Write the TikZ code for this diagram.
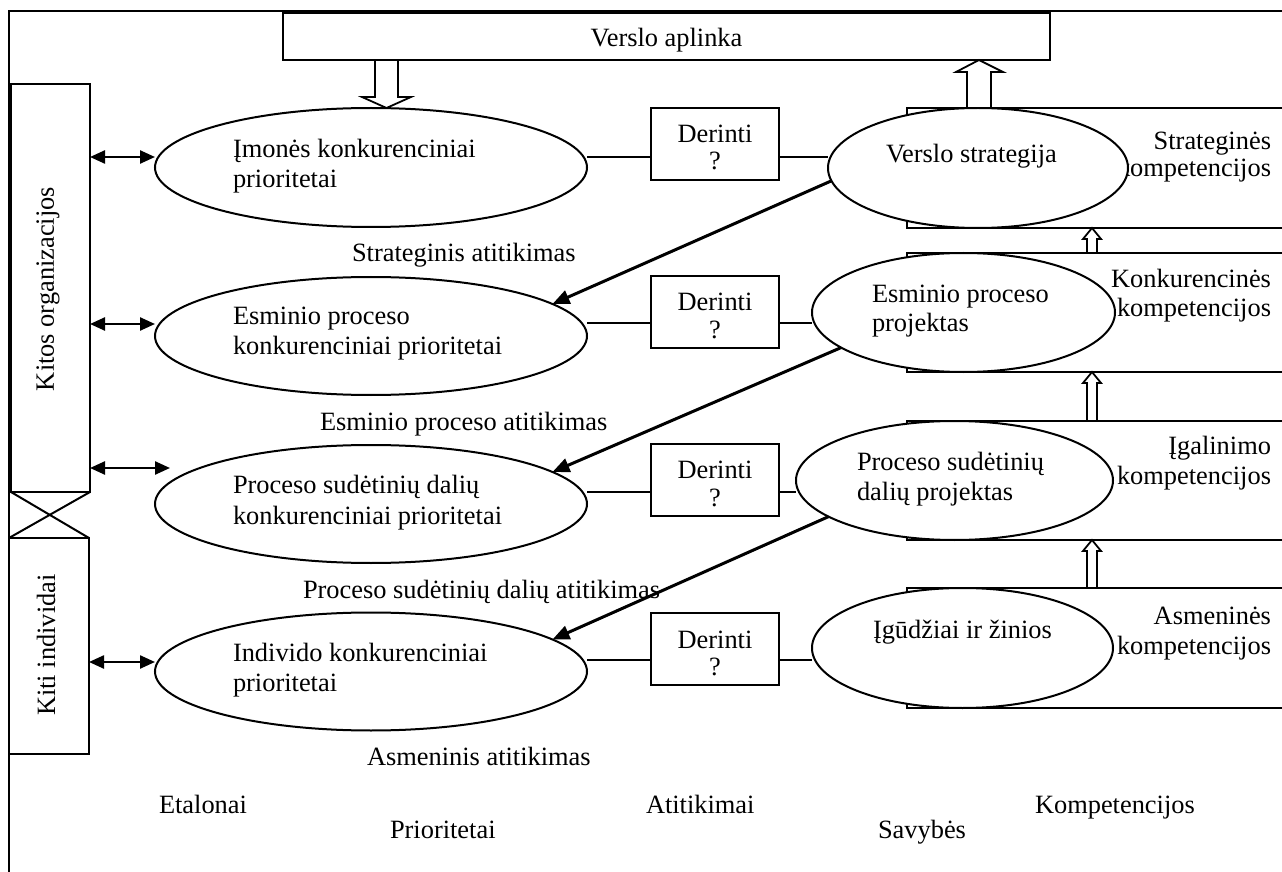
\documentclass[tikz,border=0pt]{standalone}
\usepackage{fontspec}
\setmainfont{Liberation Serif}
\usetikzlibrary{arrows.meta,shapes.geometric,calc}
\newcommand{\lftcol}[1]{\begin{tabular}[t]{@{}l@{}}#1\end{tabular}}
\newcommand{\rgtcol}[1]{\begin{tabular}[t]{@{}r@{}}#1\end{tabular}}
\newcommand{\ctrcol}[1]{\begin{tabular}[t]{@{}c@{}}#1\end{tabular}}
\begin{document}
\begin{tikzpicture}[x=0.5pt,y=-0.5pt, line width=1pt,
  every node/.style={inner sep=0pt, outer sep=0pt, font=\fontsize{13.2}{15}\selectfont},
  box/.style={draw, fill=white, rectangle},
  oval/.style={draw, fill=white, ellipse},
  ll/.style={anchor=base west},
  rl/.style={anchor=base east},
  cl/.style={anchor=base},
  txt/.style={anchor=base west},
  ctxt/.style={anchor=base},
  link/.style={line width=0.9pt},
  twoway/.style={{Triangle[length=7.5pt,width=6.5pt]}-{Triangle[length=7.5pt,width=6.5pt]}, line width=1.2pt},
  fitarrow/.style={-{Triangle[length=8.5pt,width=7pt]}, line width=1.5pt},
  hollow/.style={draw, fill=white, line width=0.9pt, line join=miter},
]
\useasboundingbox (0,0) rectangle (1282,872);
\clip (0,0) rectangle (1282,872);

% outer frame
\draw[line width=1.2pt] (9,890) -- (9,11) -- (1300,11);

% competence bands on the right
\node[box, minimum width=196.5pt, minimum height=60pt]   (c1) at (1103.5,168) {};
\node[box, minimum width=196.5pt, minimum height=59.5pt] (c2) at (1103.5,312.5) {};
\node[box, minimum width=196.5pt, minimum height=59.5pt] (c3) at (1103.5,480.5) {};
\node[box, minimum width=196.5pt, minimum height=60pt]   (c4) at (1103.5,648) {};
\node[rl] (c1t) at (1271,150) {\rgtcol{Strateginės\\[-1.5pt]kompetencijos}};
\node[rl] (c2t) at (1271,287) {\rgtcol{Konkurencinės\\kompetencijos}};
\node[rl] (c3t) at (1271,454) {\rgtcol{Įgalinimo\\kompetencijos}};
\node[rl] (c4t) at (1271,624) {\rgtcol{Asmeninės\\kompetencijos}};

% small hollow arrows between the bands
\draw[hollow] (1087,253) -- (1087,239) -- (1083,239) -- (1092,228) -- (1101,239) -- (1097,239) -- (1097,253) -- cycle;
\draw[hollow] (1087,421) -- (1087,383) -- (1083,383) -- (1092,372) -- (1101,383) -- (1097,383) -- (1097,421) -- cycle;
\draw[hollow] (1087,588) -- (1087,551) -- (1083,551) -- (1092,540) -- (1101,551) -- (1097,551) -- (1097,588) -- cycle;

% properties (right ellipses)
\node[oval, minimum width=150pt, minimum height=60pt]     (r1) at (978,168) {};
\node[oval, minimum width=151.5pt, minimum height=59.5pt] (r2) at (963.5,312.5) {};
\node[oval, minimum width=158.5pt, minimum height=59.5pt] (r3) at (954.5,480.5) {};
\node[oval, minimum width=150.5pt, minimum height=60pt]   (r4) at (962.5,648) {};
\node[txt] (r1t) at (886,163) {Verslo strategija};
\node[ll]  (r2t) at (872,302) {\lftcol{Esminio proceso\\projektas}};
\node[ll]  (r3t) at (857,470) {\lftcol{Proceso sudėtinių\\dalių projektas}};
\node[txt] (r4t) at (873,638) {Įgūdžiai ir žinios};

% business environment
\node[box, minimum width=383.5pt, minimum height=23.5pt] (verslo) at (666.5,36.5) {};
\node[ctxt] (versloT) at (666.5,47) {Verslo aplinka};
\draw[hollow] (967,108) -- (967,72) -- (956,72) -- (979,60) -- (1003,72) -- (991,72) -- (991,108) -- cycle;
\draw[hollow] (375,60) -- (375,97) -- (362,97) -- (386.5,108) -- (411,97) -- (398,97) -- (398,60) -- cycle;

% other organisations / individuals
\node[box, minimum width=39.5pt, minimum height=204pt] (kitos) at (50.5,288) {};
\node[box, minimum width=40pt, minimum height=108pt]   (kiti)  at (49,646) {};
\node[rotate=90] (kitosT) at (48,289) {Kitos organizacijos};
\node[rotate=90] (kitiT)  at (46,645) {Kiti individai};
\draw (kitos.south west) -- (kiti.north east);
\draw (kitos.south east) -- (kiti.north west);

% priorities (left ellipses)
\node[oval, minimum width=216pt, minimum height=59.5pt] (e1) at (371,167.5) {};
\node[oval, minimum width=216pt, minimum height=59pt]   (e2) at (371,336) {};
\node[oval, minimum width=216pt, minimum height=59pt]   (e3) at (371,504) {};
\node[oval, minimum width=216pt, minimum height=59pt]   (e4) at (371,671.5) {};
\node[ll] (e1t) at (233,158) {\lftcol{Įmonės konkurenciniai\\prioritetai}};
\node[ll] (e2t) at (233,325) {\lftcol{Esminio proceso\\konkurenciniai prioritetai}};
\node[ll] (e3t) at (233,493) {\lftcol{Proceso sudėtinių dalių\\[1pt]konkurenciniai prioritetai}};
\node[ll] (e4t) at (233,661) {\lftcol{Individo konkurenciniai\\prioritetai}};

% alignment boxes
\node[box, minimum width=64pt, minimum height=36pt] (d1) at (715,144) {};
\node[box, minimum width=64pt, minimum height=36pt] (d2) at (715,312) {};
\node[box, minimum width=64pt, minimum height=36pt] (d3) at (715,480) {};
\node[box, minimum width=64pt, minimum height=36pt] (d4) at (715,649) {};
\node[cl] (d1t) at (715,143) {\ctrcol{Derinti\\[-1.5pt]?}};
\node[cl] (d2t) at (715,311) {\ctrcol{Derinti\\[-1.5pt]?}};
\node[cl] (d3t) at (715,479) {\ctrcol{Derinti\\[-1.5pt]?}};
\node[cl] (d4t) at (715,648) {\ctrcol{Derinti\\[-1.5pt]?}};

% row levels
\coordinate (l1) at (0,157);
\coordinate (l2) at (0,323);
\coordinate (l3) at (0,492);
\coordinate (l4) at (0,660);
\coordinate (a1) at (0,157);
\coordinate (a2) at (0,324);
\coordinate (a3) at (0,468);
\coordinate (a4) at (0,662);

% links through the alignment boxes
\foreach \i in {1,2,3,4}{
  \draw[link] (e\i.east |- l\i) -- (d\i.west |- l\i);
  \draw[link] (d\i.east |- l\i) -- (r\i.west |- l\i);
}

% exchanges with the outside
\draw[twoway] (kitos.east |- a1) -- (e1.west |- a1);
\draw[twoway] (kitos.east |- a2) -- (e2.west |- a2);
\draw[twoway] (kitos.east |- a3) -- ($(e3.west |- a3)+(15,0)$);
\draw[twoway] (kiti.east |- a4) -- (e4.west |- a4);

% fit labels
\node[txt] (lab1) at (352,262) {Strateginis atitikimas};
\node[txt] (lab2) at (320,430) {Esminio proceso atitikimas};
\node[txt] (lab3) at (303,598) {Proceso sudėtinių dalių atitikimas};
\node[txt] (lab4) at (367,765) {Asmeninis atitikimas};

% cascading fit arrows
\draw[fitarrow] (r1.185) -- (e2.10);
\draw[fitarrow] (r2.196) -- (e3.10);
\draw[fitarrow] (r3.196) -- (e4.10);

% column headings
\node[txt] (etal) at (159,813) {Etalonai};
\node[txt] (prio) at (390,838) {Prioritetai};
\node[txt] (atit) at (646,813) {Atitikimai};
\node[txt] (savy) at (878,838) {Savybės};
\node[txt] (komp) at (1035,813) {Kompetencijos};
\end{tikzpicture}
\end{document}
